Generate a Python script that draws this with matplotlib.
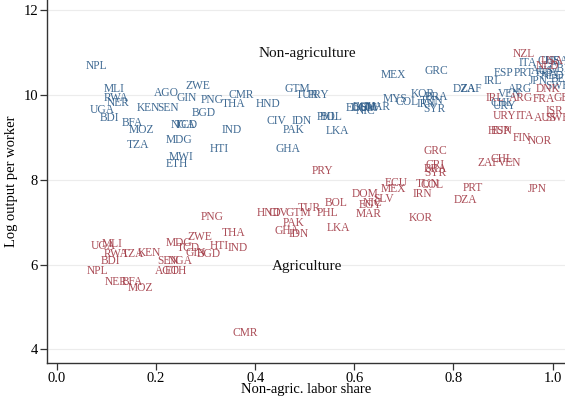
import matplotlib
matplotlib.use("Agg")
import matplotlib.pyplot as plt

# Non-agriculture (blue) labels: country, non-agric labor share, log output per worker
nonag_codes = ["NPL","MLI","RWA","NER","UGA","BDI","BFA","MOZ","TZA","AGO","ZWE","GIN","PNG",
               "KEN","SEN","BGD","NGA","TCD","MDG","MWI","ETH","HTI","IND","CMR","THA","HND",
               "GTM","TUR","PRY","CIV","IDN","PAK","GHA","PHL","BOL","LKA","ECU","DOM","EGY",
               "SLV","NIC","MAR","MEX","MYS","GRC","KOR","BRA","COL","TUN","IRN","SYR","DZA",
               "ZAF","IRL","ESP","PRT","ARG","VEN","CHL","URY","ITA","CHE","USA","JPN","NLD",
               "BEL","AUS","GBR","FRA","SWE"]
nonag_x = [0.059,0.095,0.095,0.101,0.067,0.087,0.131,0.145,0.141,0.196,0.259,0.242,0.291,
           0.162,0.202,0.273,0.230,0.238,0.220,0.226,0.220,0.309,0.333,0.347,0.333,0.402,
           0.459,0.481,0.507,0.422,0.473,0.455,0.442,0.525,0.531,0.543,0.582,0.592,0.596,
           0.612,0.602,0.622,0.653,0.657,0.741,0.713,0.743,0.683,0.733,0.725,0.739,0.798,
           0.814,0.861,0.881,0.921,0.909,0.889,0.875,0.879,0.931,0.970,0.986,0.952,0.976,
           0.996,0.956,0.992,0.966,0.986]
nonag_y = [10.68,10.14,9.93,9.81,9.65,9.46,9.34,9.18,8.82,10.05,10.21,9.93,9.88,
           9.69,9.69,9.58,9.29,9.29,8.94,8.54,8.38,8.73,9.18,10.00,9.79,9.79,
           10.14,10.00,10.00,9.39,9.39,9.18,8.73,9.48,9.48,9.15,9.69,9.69,9.72,
           9.69,9.62,9.72,10.47,9.91,10.56,10.02,9.95,9.84,9.86,9.79,9.67,10.14,
           10.14,10.33,10.52,10.52,10.14,10.02,9.81,9.74,10.75,10.80,10.80,10.33,10.45,
           10.38,10.56,10.61,10.52,10.21]

# Agriculture (red) labels
ag_codes = ["NPL","UGA","MLI","RWA","TZA","KEN","BDI","SEN","NGA","AGO","ETH","NER","BFA",
            "MOZ","MDG","TCD","GIN","BGD","ZWE","PNG","HTI","THA","IND","CMR","HND","CIV",
            "GTM","TUR","PAK","GHA","IDN","PHL","BOL","LKA","PRY","DOM","EGY","NIC","SLV",
            "MAR","MEX","ECU","TUN","COL","IRN","KOR","GRC","CRI","BRA","SYR","PRT","DZA",
            "JPN","ZAF","CHL","VEN","HUN","ESP","FIN","NOR","NZL","IRL","ARG","DNK","FRA",
            "GBR","URY","ITA","ISR","AUS","SWE","USA","NLD"]
ag_x = [0.061,0.069,0.091,0.095,0.131,0.164,0.089,0.202,0.224,0.198,0.218,0.097,0.131,
        0.143,0.220,0.242,0.259,0.283,0.263,0.291,0.309,0.333,0.345,0.354,0.404,0.426,
        0.461,0.485,0.455,0.440,0.467,0.525,0.541,0.545,0.515,0.594,0.608,0.616,0.638,
        0.602,0.653,0.661,0.723,0.733,0.717,0.709,0.739,0.743,0.741,0.741,0.818,0.800,
        0.949,0.848,0.875,0.889,0.869,0.875,0.919,0.949,0.919,0.865,0.911,0.966,0.960,
        1.002,0.879,0.925,0.986,0.962,0.986,0.976,0.966]
ag_y = [5.86,6.45,6.49,6.26,6.26,6.28,6.09,6.09,6.09,5.86,5.86,5.58,5.58,
        5.44,6.52,6.40,6.28,6.26,6.64,7.13,6.45,6.75,6.38,4.38,7.22,7.22,
        7.22,7.34,6.99,6.80,6.73,7.22,7.46,6.87,8.21,7.67,7.41,7.46,7.55,
        7.20,7.79,7.93,7.91,7.88,7.67,7.11,8.68,8.35,8.26,8.16,7.81,7.53,
        7.79,8.40,8.49,8.40,9.15,9.15,8.99,8.92,10.96,9.93,9.93,10.14,9.91,
        9.93,9.51,9.51,9.62,9.46,9.46,10.80,10.68]

x_ticks = [0.0, 0.2, 0.4, 0.6, 0.8, 1.0]
y_ticks = [4, 6, 8, 10, 12]

BLUE = "#2c5b88"
RED = "#a23a45"
SERIF = ["Liberation Serif", "DejaVu Serif"]

fig = plt.figure(figsize=(5.65, 3.98), dpi=100)
ax = fig.add_axes([0.083, 0.087, 0.917, 0.913])
ax.set_xlim(-0.02, 1.025)
ax.set_ylim(3.67, 12.24)

for t in y_ticks:
    ax.axhline(t, color="#ececec", lw=0.8, zorder=0)

ax.scatter(nonag_x, nonag_y, s=0)
ax.scatter(ag_x, ag_y, s=0)

for c, x, y in zip(nonag_codes, nonag_x, nonag_y):
    ax.text(x, y, c, color=BLUE, fontsize=8.3, family=SERIF, ha="left", va="center",
            clip_on=False, alpha=0.9)
for c, x, y in zip(ag_codes, ag_x, ag_y):
    ax.text(x, y, c, color=RED, fontsize=8.3, family=SERIF, ha="left", va="center",
            clip_on=False, alpha=0.9)

ax.text(0.406, 10.99, "Non-agriculture", fontsize=11, family=SERIF, ha="left", va="center",
        color="#111111")
ax.text(0.434, 5.95, "Agriculture", fontsize=11, family=SERIF, ha="left", va="center",
        color="#111111")

ax.set_xticks(x_ticks)
ax.set_xticklabels([f"{t:.1f}" for t in x_ticks])
ax.set_yticks(y_ticks)
ax.set_yticklabels([str(t) for t in y_ticks])
for lbl in ax.get_xticklabels() + ax.get_yticklabels():
    lbl.set_family(SERIF)
    lbl.set_fontsize(10.5)
ax.tick_params(direction="out", length=5, width=0.9, color="#333333", pad=1.5)

for s in ["top", "right"]:
    ax.spines[s].set_visible(False)
for s in ["left", "bottom"]:
    ax.spines[s].set_color("#333333")
    ax.spines[s].set_linewidth(1.0)

ax.set_xlabel("Non-agric. labor share", fontsize=10.5, family=SERIF, labelpad=-2)
ax.set_ylabel("Log output per worker", fontsize=10.5, family=SERIF, labelpad=4)

fig.savefig("out.png", dpi=100)
